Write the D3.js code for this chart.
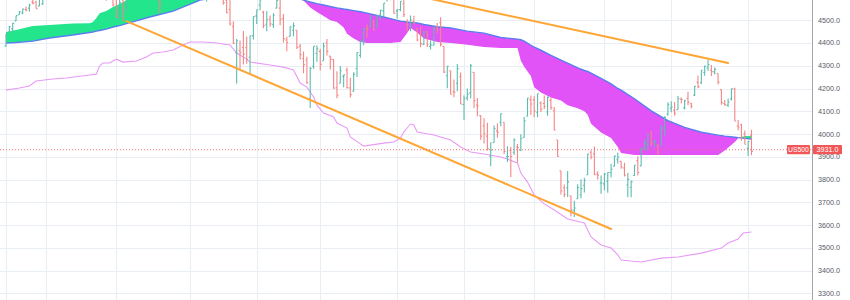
<!DOCTYPE html>
<html>
<head>
<meta charset="utf-8">
<style>
  body { margin: 0; background: #fff; }
  svg { display: block; font-family: "Liberation Sans", Arial, sans-serif; }
</style>
<script src="https://cdn.jsdelivr.net/npm/d3@7"></script>
</head>
<body>
<svg id="chart" width="850" height="300"></svg>
<script>
// daily bars, 14 Oct 2021 .. 2 Sep 2022 (index 0..223)
const barOpen = [
  4386,4447,4463,4497,4524,4532,4547,4553,4579,4580,4562,4572,
  4610,4613,4630,4662,4699,4701,4707,4670,4660,4655,4689,4680,4701,4700,4708,4712,4679,4675,4664,4628,4640,
  4602,4504,4589,4548,4631,4690,4691,4687,4710,4642,4636,4719,4652,4587,4594,4650,4703,4733,4795,4788,4795,4776,
  4778,4804,4787,4693,4698,4655,4669,4728,4733,4637,4632,4588,4547,4471,4357,4367,4380,4381,4337,4431,
  4519,4566,4535,4482,4505,4480,4553,4553,4507,4413,4429,4456,4456,4385,4332,4325,4155,4298,4354,
  4363,4322,4401,4342,4327,4203,4223,4253,4280,4202,4188,4288,4345,4407,4462,4469,4493,4469,4523,4541,4602,4624,4599,
  4540,4547,4572,4494,4474,4494,4462,4438,4394,4449,4385,4390,4472,4489,4385,4256,4278,4186,4223,4253,
  4130,4159,4181,4271,4128,4081,4035,3991,3903,3963,4014,4052,4052,3900,3928,3920,3943,3929,3985,4078,4151,
  4150,4096,4137,4134,4097,4148,4102,3974,3838,3764,3764,3729,3665,3716,3733,3775,3821,3920,3913,3825,3785,
  3781,3792,3831,3859,3889,3880,3851,3776,3765,3818,3883,3860,3936,3955,4008,3965,3953,3951,4027,4088,
  4113,4105,4107,4154,4115,4156,4133,4171,4227,4225,4270,4290,4281,4273,4266,4195,4134,4127,4154,4198,4035,4041,4001,
  3937,3995
];
const barHigh = [
  4439,4475,4488,4520,4540,4551,4560,4572,4598,4585,4598,4608,
  4620,4635,4664,4684,4718,4714,4708,4685,4664,4688,4697,4714,4701,4708,4717,4743,4699,4702,4664,4672,4646,
  4652,4595,4608,4612,4694,4705,4695,4713,4711,4660,4712,4731,4666,4587,4651,4697,4740,4791,4808,4804,4808,4787,
  4797,4819,4798,4726,4708,4673,4714,4749,4744,4665,4632,4611,4602,4495,4417,4411,4453,4428,4432,4516,
  4546,4595,4542,4540,4521,4531,4590,4589,4527,4427,4472,4490,4456,4395,4363,4339,4294,4385,4389,
  4375,4401,4417,4343,4328,4276,4299,4261,4292,4247,4271,4358,4412,4465,4481,4522,4501,4521,4546,4575,4637,4627,4603,
  4549,4583,4593,4504,4521,4520,4464,4471,4453,4452,4411,4471,4488,4513,4386,4299,4278,4240,4308,4270,
  4169,4200,4308,4271,4158,4082,4069,4050,3964,4038,4047,4090,4052,3946,3944,3982,3956,3999,4075,4158,4169,
  4166,4177,4143,4169,4165,4160,4119,3974,3838,3778,3838,3729,3707,3779,3801,3808,3913,3928,3945,3836,3818,
  3829,3832,3870,3906,3918,3881,3874,3829,3796,3863,3902,3939,3975,3999,4013,3975,3954,4039,4078,4140,
  4144,4141,4167,4161,4151,4186,4137,4211,4257,4280,4301,4325,4303,4292,4266,4195,4149,4156,4200,4203,4062,4045,4015,
  3970,4019
];
const barLow = [
  4386,4447,4447,4496,4524,4526,4538,4537,4570,4551,4562,4567,
  4595,4604,4624,4662,4681,4694,4670,4630,4648,4650,4672,4679,4684,4672,4694,4682,4661,4659,4585,4625,4560,
  4510,4504,4495,4541,4631,4670,4665,4670,4666,4606,4611,4651,4600,4531,4584,4645,4703,4733,4786,4779,4775,4765,
  4759,4774,4699,4671,4663,4582,4638,4703,4662,4614,4568,4530,4477,4396,4222,4287,4305,4309,4264,4415,
  4483,4544,4465,4452,4471,4466,4553,4478,4402,4364,4429,4429,4373,4327,4267,4221,4114,4287,4318,
  4279,4322,4345,4284,4199,4157,4223,4205,4200,4161,4187,4251,4335,4390,4424,4469,4455,4465,4502,4517,4582,4588,4530,
  4507,4539,4514,4450,4451,4483,4408,4381,4392,4382,4371,4390,4444,4384,4268,4201,4175,4162,4188,4132,
  4062,4147,4157,4114,4078,3975,3958,3928,3859,3963,3984,4034,3912,3877,3810,3908,3875,3925,3985,4078,4084,
  4074,4074,4097,4109,4080,4107,4017,3900,3734,3722,3723,3639,3636,3716,3717,3743,3821,3889,3820,3800,3738,
  3753,3742,3809,3859,3871,3847,3814,3722,3722,3817,3818,3860,3929,3928,3947,3942,3910,3951,3993,4080,
  4096,4080,4107,4135,4108,4128,4112,4167,4201,4220,4256,4278,4255,4262,4218,4129,4124,4119,4147,4057,4017,3971,3955,
  3903,3907
];
const barClose = [
  4438,4471,4486,4520,4537,4549,4545,4567,4575,4551,4596,4605,
  4614,4631,4660,4680,4697,4701,4685,4646,4649,4683,4682,4701,4688,4704,4698,4683,4690,4701,4595,4655,4567,
  4513,4577,4538,4592,4686,4701,4667,4712,4669,4634,4710,4669,4621,4568,4649,4697,4726,4791,4786,4793,4778,4766,
  4797,4794,4701,4696,4677,4670,4713,4726,4659,4663,4577,4533,4483,4398,4410,4357,4350,4327,4432,4516,
  4546,4589,4477,4501,4484,4522,4587,4504,4419,4402,4471,4475,4380,4349,4305,4226,4288,4385,4374,
  4306,4387,4363,4329,4201,4171,4278,4260,4204,4173,4262,4358,4412,4463,4461,4511,4456,4520,4543,4575,4632,4602,4530,
  4546,4583,4525,4481,4500,4488,4413,4397,4447,4392,4391,4463,4460,4394,4272,4297,4175,4184,4288,4132,
  4155,4175,4300,4147,4123,3991,4001,3935,3930,4024,4008,4089,3923,3901,3901,3974,3941,3979,4058,4158,4132,
  4101,4177,4109,4121,4161,4116,4018,3901,3750,3735,3790,3667,3675,3765,3760,3796,3912,3900,3821,3819,3785,
  3825,3831,3845,3903,3899,3855,3819,3801,3790,3863,3831,3937,3960,3999,3962,3967,3921,4024,4073,4130,
  4119,4091,4155,4152,4145,4140,4122,4210,4207,4280,4297,4305,4274,4284,4228,4138,4128,4141,4199,4057,4031,3986,3955,
  3967,3924
];

// cloud edges (bar index, price)
const cloudIdx = [0,3,8,13,20,25,26,27,28,30,32,34,36,43,50,58,67,75,82,87,89,91,93,95,97,99,101,102,104,106,108,113,115,118,120,121,123,125,129,133,138,143,148,153,154,155,157,158,160,163,166,168,171,173,174,175,178,181,183,184,188,193,198,203,208,213,215,218,219,221,223];
const spanA = [4448,4457,4474,4479,4485,4487,4492,4509,4531,4540,4558,4571,4588,4650,4700,4720,4715,4680,4635,4600,4586,4556,4536,4518,4500,4492,4468,4440,4420,4404,4400,4400,4400,4404,4444,4466,4446,4420,4404,4400,4392,4382,4378,4378,4322,4296,4255,4205,4182,4161,4147,4126,4113,4100,4085,4045,4007,3983,3943,3917,3908,3908,3908,3908,3908,3908,3928,3965,3982,3991,3991];
const spanB = [4400,4402,4408,4422,4435,4446,4448,4452,4455,4461,4470,4476,4485,4514,4540,4588,4612,4626,4618,4600,4588,4580,4573,4567,4560,4554,4549,4547,4542,4537,4531,4514,4507,4496,4492,4490,4488,4481,4471,4466,4452,4443,4424,4417,4414,4408,4390,4382,4368,4346,4325,4311,4291,4279,4275,4268,4244,4220,4200,4193,4155,4102,4059,4029,4008,3995,3991,3986,3984,3981,3978];

// violet line
const violetIdx = [0,4,7,9,14,18,25,27,28,29,31,33,35,39,42,44,47,50,53,55,59,63,67,69,72,73,79,83,86,88,90,92,93,95,98,99,102,103,107,113,116,118,119,121,122,123,128,133,136,139,143,148,150,153,154,156,158,161,164,168,173,175,178,181,183,184,187,190,196,201,208,214,216,219,220.5,223];
const violetVal = [4193,4202,4211,4233,4242,4246,4259,4263,4299,4312,4312,4329,4316,4321,4338,4356,4360,4369,4391,4404,4404,4400,4391,4356,4329,4316,4303,4294,4281,4224,4206,4163,4127,4092,4075,4048,4026,3987,3947,3960,3965,3982,4009,4044,4040,4009,3996,3974,3943,3921,3912,3899,3890,3873,3829,3789,3732,3693,3666,3627,3609,3548,3513,3499,3469,3447,3442,3438,3455,3460,3477,3499,3521,3539,3565,3570];

// trend lines: [bar index, price]
const trendLower = [[36, 4496], [181, 3583]];
const trendUpper = [[125, 4600], [216, 4312]];

const priceTicks = [3300,3400,3500,3600,3700,3800,3900,4000,4100,4200,4300,4400,4500];
const monthIdx = [0,12,33,55,75,94,117,137,158,179,199,222];
const lastPrice = 3931.0;
const symbol = "US500";

const W = 850, H = 300, axisX = 812;
const svg = d3.select("#chart");

const x = d3.scaleLinear().domain([0, 223]).range([6, 751.5]);
const y = d3.scaleLinear().domain([3300, 4500]).range([293.4, 20.2]);

const defs = svg.append("defs");
defs.append("clipPath").attr("id", "plot")
  .append("rect").attr("x", 0).attr("y", 0).attr("width", axisX).attr("height", H);

const cloud = cloudIdx.map((i, k) => ({ i, a: spanA[k], b: spanB[k] }));

defs.append("clipPath").attr("id", "aboveB")
  .append("path")
  .attr("d", d3.area().x((d) => x(d.i)).y0(0).y1((d) => y(d.b))(cloud));
defs.append("clipPath").attr("id", "belowB")
  .append("path")
  .attr("d", d3.area().x((d) => x(d.i)).y0((d) => y(d.b)).y1(H)(cloud));

// grid
const grid = svg.append("g").attr("stroke", "#e9eef4").attr("stroke-width", 1);
priceTicks.forEach((t) => {
  const yy = Math.round(y(t)) + 0.5;
  grid.append("line").attr("x1", 0).attr("x2", axisX).attr("y1", yy).attr("y2", yy);
});
monthIdx.forEach((i) => {
  const xx = Math.round(x(i)) + 0.5;
  grid.append("line").attr("x1", xx).attr("x2", xx).attr("y1", 0).attr("y2", H);
});

const plot = svg.append("g").attr("clip-path", "url(#plot)");

// cloud fill
const between = d3.area().x((d) => x(d.i)).y0((d) => y(d.a)).y1((d) => y(d.b));
plot.append("path").attr("d", between(cloud))
  .attr("fill", "#22e58c").attr("clip-path", "url(#aboveB)");
plot.append("path").attr("d", between(cloud))
  .attr("fill", "#e152f7").attr("clip-path", "url(#belowB)");

plot.append("path")
  .attr("d", d3.line().x((d) => x(d.i)).y((d) => y(d.b))(cloud))
  .attr("fill", "none").attr("stroke", "#5a7df0").attr("stroke-width", 1.4);

// violet line
plot.append("path")
  .attr("d", d3.line().x((d) => x(d[0])).y((d) => y(d[1]))(violetIdx.map((i, k) => [i, violetVal[k]])))
  .attr("fill", "none").attr("stroke", "#e89af7").attr("stroke-width", 1.1);

// OHLC bars
const bars = plot.append("g").attr("fill", "none").attr("stroke-width", 1.1);
barOpen.forEach((o, i) => {
  const xi = x(i);
  const up = barClose[i] >= o;
  bars.append("path")
    .attr("d", `M${xi},${y(barHigh[i])}V${y(barLow[i])}M${xi - 1.4},${y(o)}H${xi}M${xi},${y(barClose[i])}H${xi + 1.4}`)
    .attr("stroke", up ? "#5cbcaf" : "#f48686");
});

// trend lines
const tl = d3.line().x((d) => x(d[0])).y((d) => y(d[1]));
[trendLower, trendUpper].forEach((t) => {
  plot.append("path").attr("d", tl(t))
    .attr("fill", "none").attr("stroke", "#ffa534").attr("stroke-width", 2).attr("stroke-linecap", "round");
});

// last price line
const yLast = y(lastPrice);
plot.append("line").attr("x1", 0).attr("x2", axisX).attr("y1", yLast).attr("y2", yLast)
  .attr("stroke", "#f27070").attr("stroke-width", 1).attr("stroke-dasharray", "1,2");

// right axis
svg.append("line").attr("x1", axisX + 0.5).attr("x2", axisX + 0.5).attr("y1", 0).attr("y2", H)
  .attr("stroke", "#a3a6ae").attr("stroke-width", 1);
svg.append("g").selectAll("text").data(priceTicks).join("text")
  .attr("x", 818).attr("y", (d) => y(d)).attr("dy", "0.35em")
  .attr("font-size", 7.2).attr("fill", "#555a66")
  .text((d) => d.toFixed(1));

// symbol and price tags
svg.append("rect").attr("x", 787).attr("y", yLast - 4.7).attr("width", 23).attr("height", 9.2)
  .attr("rx", 1).attr("fill", "#f25757");
svg.append("text").attr("x", 798.5).attr("y", yLast).attr("dy", "0.35em")
  .attr("text-anchor", "middle").attr("font-size", 6.8).attr("fill", "#fff").text(symbol);
svg.append("rect").attr("x", 813).attr("y", yLast - 4.7).attr("width", 29).attr("height", 9.2)
  .attr("rx", 1).attr("fill", "#f25757");
svg.append("text").attr("x", 827.5).attr("y", yLast).attr("dy", "0.35em")
  .attr("text-anchor", "middle").attr("font-size", 7.2).attr("fill", "#fff").text(lastPrice.toFixed(1));
</script>
</body>
</html>
